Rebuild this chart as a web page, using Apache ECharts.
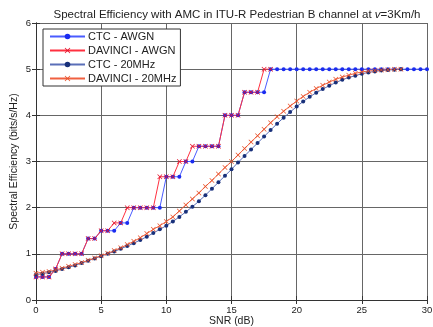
<!DOCTYPE html>
<html><head><meta charset="utf-8">
<script src="https://cdn.jsdelivr.net/npm/echarts@6/dist/echarts.min.js"></script>
<style>html,body{margin:0;padding:0;background:#fff}#c{width:433px;height:327px}</style>
</head><body><div id="c"></div><script>
const snrAwgn = [0,0.5,1,1.5,2,2.5,3,3.5,4,4.5,5,5.5,6,6.5,7,7.5,8,8.5,9,9.5,10,10.5,11,11.5,12,12.5,13,13.5,14,14.5,15,15.5,16,16.5,17,17.5,18,18.5,19,19.5,20,20.5,21,21.5,22,22.5,23,23.5,24,24.5,25,25.5,26,26.5,27,27.5,28,28.5,29,29.5,30];
const ctcAwgn = [0.5,0.5,0.5,0.67,1,1,1,1,1.33,1.33,1.5,1.5,1.5,1.67,1.67,2,2,2,2,2,2.67,2.67,2.67,3,3,3.33,3.33,3.33,3.33,4,4,4,4.5,4.5,4.5,4.5,5,5,5,5,5,5,5,5,5,5,5,5,5,5,5,5,5,5,5,5,5,5,5,5,5];
const snrDavAwgn = [0,0.5,1,1.5,2,2.5,3,3.5,4,4.5,5,5.5,6,6.5,7,7.5,8,8.5,9,9.5,10,10.5,11,11.5,12,12.5,13,13.5,14,14.5,15,15.5,16,16.5,17,17.5,18];
const davinciAwgn = [0.5,0.5,0.5,0.67,1,1,1,1,1.33,1.33,1.5,1.5,1.67,1.67,2,2,2,2,2,2.67,2.67,2.67,3,3,3.33,3.33,3.33,3.33,3.33,4,4,4,4.5,4.5,4.5,5,5];
const snr20 = [0,0.5,1,1.5,2,2.5,3,3.5,4,4.5,5,5.5,6,6.5,7,7.5,8,8.5,9,9.5,10,10.5,11,11.5,12,12.5,13,13.5,14,14.5,15,15.5,16,16.5,17,17.5,18,18.5,19,19.5,20,20.5,21,21.5,22,22.5,23,23.5,24,24.5,25,25.5,26,26.5,27,27.5,28];
const ctc20 = [0.55,0.57,0.6,0.63,0.67,0.71,0.75,0.8,0.85,0.9,0.95,1.0,1.05,1.11,1.17,1.23,1.30,1.37,1.45,1.53,1.61,1.70,1.80,1.91,2.02,2.14,2.27,2.41,2.55,2.69,2.83,2.98,3.12,3.26,3.40,3.54,3.68,3.82,3.95,4.07,4.19,4.3,4.4,4.49,4.57,4.64,4.71,4.77,4.82,4.86,4.9,4.93,4.95,4.97,4.98,4.99,5.0];
const davinci20 = [0.58,0.6,0.62,0.65,0.69,0.73,0.77,0.81,0.86,0.91,0.96,1.01,1.07,1.13,1.20,1.27,1.35,1.44,1.53,1.61,1.70,1.80,1.93,2.06,2.19,2.32,2.46,2.59,2.73,2.87,3.0,3.14,3.28,3.42,3.56,3.70,3.84,3.97,4.09,4.2,4.31,4.41,4.5,4.58,4.65,4.72,4.78,4.83,4.87,4.91,4.94,4.96,4.97,4.98,4.99,5.0,5.0];
const xTicks = [0,5,10,15,20,25,30];
const yTicks = [0,1,2,3,4,5,6];
const seriesNames = ['CTC - AWGN','DAVINCI - AWGN','CTC - 20MHz','DAVINCI - 20MHz'];

const pair = (xs, ys) => xs.map((x, i) => [x, ys[i]]);
const xMark = 'path://M0,1L1,0L5,4L9,0L10,1L6,5L10,9L9,10L5,6L1,10L0,9L4,5Z';
const font = 'Liberation Sans, Arial, sans-serif';

const chart = echarts.init(document.getElementById('c'), null, {renderer: 'canvas'});
const axisCommon = {
  type: 'value',
  axisLine: {show: true, lineStyle: {color: '#333', width: 1}},
  axisTick: {show: true, inside: true, length: 4, lineStyle: {color: '#333'}},
};
chart.setOption({
  animation: false,
  backgroundColor: '#fff',
  title: {
    text: 'Spectral Efficiency with AMC in ITU-R Pedestrian B channel at {i|v}=3Km/h',
    left: 232, textAlign: 'center', top: 4,
    textStyle: {fontFamily: font, fontSize: 11.5, fontWeight: 'normal', color: '#222',
      rich: {i: {fontFamily: font, fontSize: 11.5, fontStyle: 'italic', color: '#222'}}}
  },
  legend: {
    orient: 'vertical', left: 43, top: 29,
    data: seriesNames,
    itemWidth: 35, itemHeight: 7, itemGap: 3,
    padding: [2, 4, 2, 6],
    borderColor: '#333', borderWidth: 1, backgroundColor: '#fff',
    textStyle: {fontFamily: font, fontSize: 11, color: '#222', padding: [0, 0, 0, -2]},
  },
  grid: {left: 36, right: 6, top: 23, bottom: 27,
         outerBounds: {left: -40, right: -40, top: -40, bottom: -40}},
  xAxis: [
    Object.assign({}, axisCommon, {
      min: xTicks[0], max: xTicks[xTicks.length - 1], interval: 5,
      name: 'SNR (dB)', nameLocation: 'middle', nameGap: 16, nameMoveOverlap: false,
      nameTextStyle: {fontFamily: font, fontSize: 10.5, color: '#222'},
      axisLabel: {fontFamily: font, fontSize: 9.5, color: '#222', margin: 5},
      splitLine: {show: true, lineStyle: {color: '#666', width: 1}}
    }),
    Object.assign({}, axisCommon, {
      position: 'top', min: 0, max: 30, interval: 5,
      axisLabel: {show: false}, splitLine: {show: false}
    })
  ],
  yAxis: [
    Object.assign({}, axisCommon, {
      min: yTicks[0], max: yTicks[yTicks.length - 1], interval: 1,
      name: 'Spectral Efficiency (bits/s/Hz)', nameLocation: 'middle', nameGap: 16, nameMoveOverlap: false,
      nameTextStyle: {fontFamily: font, fontSize: 10.5, color: '#222'},
      axisLabel: {fontFamily: font, fontSize: 9.5, color: '#222', margin: 5},
      splitLine: {show: true, lineStyle: {color: '#666', width: 1}}
    }),
    Object.assign({}, axisCommon, {
      position: 'right', min: 0, max: 6, interval: 1,
      axisLabel: {show: false}, splitLine: {show: false}
    })
  ],
  series: [
    {name: seriesNames[0], type: 'line', data: pair(snrAwgn, ctcAwgn),
     symbol: 'circle', symbolSize: 4,
     lineStyle: {color: '#4a5cff', width: 1}, itemStyle: {color: '#1a2cf0'}},
    {name: seriesNames[1], type: 'line', data: pair(snrDavAwgn, davinciAwgn),
     symbol: xMark, symbolSize: 5,
     lineStyle: {color: '#ff3040', width: 1}, itemStyle: {color: '#e0102a'}},
    {name: seriesNames[2], type: 'line', data: pair(snr20, ctc20),
     symbol: 'circle', symbolSize: 4,
     lineStyle: {color: '#5a6fb8', width: 1}, itemStyle: {color: '#18307a'}},
    {name: seriesNames[3], type: 'line', data: pair(snr20, davinci20),
     symbol: xMark, symbolSize: 5,
     lineStyle: {color: '#f06040', width: 1}, itemStyle: {color: '#e85028'}}
  ]
});
</script></body></html>
